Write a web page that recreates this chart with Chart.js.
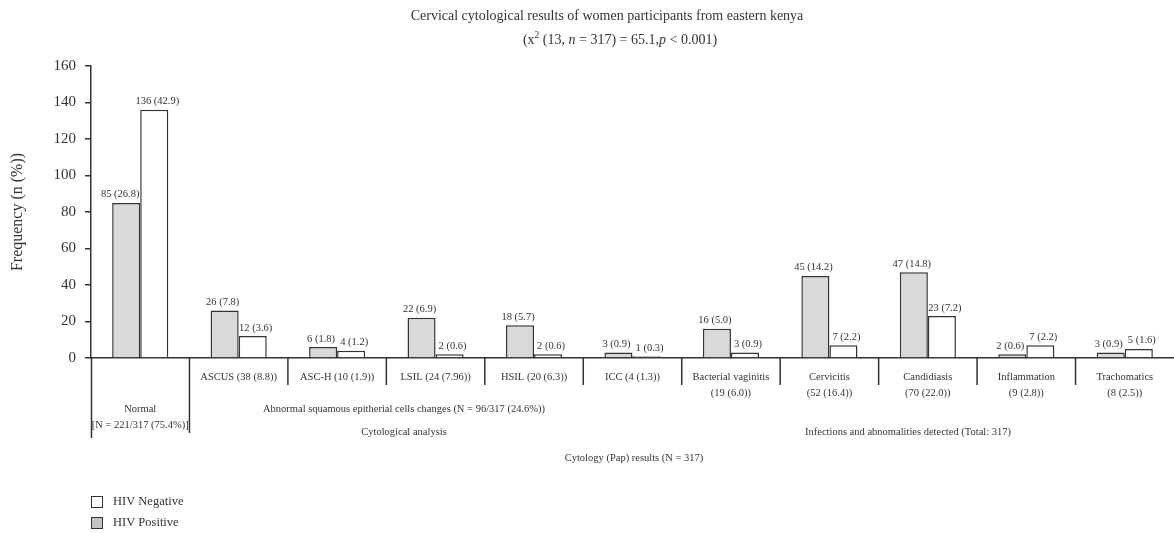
<!DOCTYPE html>
<html>
<head>
<meta charset="utf-8">
<script src="https://cdn.jsdelivr.net/npm/chart.js@4"></script>
<style>
html, body { margin: 0; background: #fff; }
#wrap { width: 1174px; height: 533px; }
</style>
</head>
<body>
<div id="wrap"><canvas id="chart"></canvas></div>
<script>
// category labels (multi-line)
var categories = [
    ['', '', 'Normal', '[N = 221/317 (75.4%)]'],
    'ASCUS (38 (8.8))',
    'ASC-H (10 (1.9))',
    'LSIL (24 (7.96))',
    'HSIL (20 (6.3))',
    'ICC (4 (1.3))',
    ['Bacterial vaginitis', '(19 (6.0))'],
    ['Cervicitis', '(52 (16.4))'],
    ['Candidiasis', '(70 (22.0))'],
    ['Inflammation', '(9 (2.8))'],
    ['Trachomatics', '(8 (2.5))']
];
var hivPositive = [85, 26, 6, 22, 18, 3, 16, 45, 47, 2, 3];
var hivPositivePct = [26.8, 7.8, 1.8, 6.9, 5.7, 0.9, 5.0, 14.2, 14.8, 0.6, 0.9];
var hivNegative = [136, 12, 4, 2, 2, 1, 3, 7, 23, 7, 5];
var hivNegativePct = [42.9, 3.6, 1.2, 0.6, 0.6, 0.3, 0.9, 2.2, 7.2, 2.2, 1.6];
var yTicks = [0, 20, 40, 60, 80, 100, 120, 140, 160];

var serif = '"Liberation Serif", "DejaVu Serif", serif';
var ink = '#333';

// bar value labels + extra annotations
var annotations = {
    id: 'annotations',
    afterDatasetsDraw: function(chart) {
        var ctx = chart.ctx;
        var pcts = [hivPositivePct, hivNegativePct];
        var nudge = [-2, 3];
        ctx.save();
        ctx.font = '10.5px ' + serif;
        ctx.fillStyle = ink;
        ctx.textAlign = 'center';
        ctx.textBaseline = 'bottom';
        chart.data.datasets.forEach(function(ds, di) {
            var meta = chart.getDatasetMeta(di);
            meta.data.forEach(function(el, i) {
                var dx = nudge[di];
                if (di === 0 && i === 0) dx = -6;
                ctx.fillText(ds.data[i] + ' (' + pcts[di][i].toFixed(1) + ')', el.x + dx, el.y - 3);
            });
        });
        ctx.restore();
    },
    afterDraw: function(chart) {
        var ctx = chart.ctx;
        var x = chart.scales.x;
        var area = chart.chartArea;
        var bottom = area.bottom;
        ctx.save();
        ctx.strokeStyle = ink;
        ctx.lineWidth = 1.5;

        // separators under the axis
        ctx.beginPath();
        ctx.moveTo(area.left + 0.5, bottom);
        ctx.lineTo(area.left + 0.5, bottom + 80);
        for (var i = 1; i < categories.length; i++) {
            var bx = (x.getPixelForValue(i - 1) + x.getPixelForValue(i)) / 2;
            ctx.moveTo(bx, bottom);
            ctx.lineTo(bx, bottom + (i === 1 ? 75 : 27));
        }
        ctx.stroke();

        // group labels
        ctx.fillStyle = ink;
        ctx.textAlign = 'center';
        ctx.textBaseline = 'middle';
        ctx.font = '10.5px ' + serif;
        ctx.fillText('Abnormal squamous epitherial cells changes (N = 96/317 (24.6%))', 404, 409);
        ctx.fillText('Cytological analysis', 404, 432);
        ctx.fillText('Infections and abnomalities detected (Total: 317)', 908, 432);
        ctx.fillText('Cytology (Pap) results (N = 317)', 634, 458);

        // title
        ctx.font = '14px ' + serif;
        ctx.fillText('Cervical cytological results of women participants from eastern kenya', 607, 16);
        var parts = [
            ['(x', '14px ' + serif, 0],
            ['2', '9.5px ' + serif, -5],
            [' (13, ', '14px ' + serif, 0],
            ['n', 'italic 14px ' + serif, 0],
            [' = 317) = 65.1,', '14px ' + serif, 0],
            ['p', 'italic 14px ' + serif, 0],
            [' < 0.001)', '14px ' + serif, 0]
        ];
        var total = 0;
        parts.forEach(function(p) { ctx.font = p[1]; total += ctx.measureText(p[0]).width; });
        var px = 620 - total / 2;
        ctx.textAlign = 'left';
        parts.forEach(function(p) {
            ctx.font = p[1];
            ctx.fillText(p[0], px, 40 + p[2]);
            px += ctx.measureText(p[0]).width;
        });

        // legend (negative first, like the original)
        var items = [chart.data.datasets[1], chart.data.datasets[0]];
        ctx.font = '12.5px ' + serif;
        ctx.lineWidth = 1;
        items.forEach(function(ds, k) {
            var ly = 496 + k * 21;
            ctx.fillStyle = ds.legendColor;
            ctx.fillRect(91.5, ly + 0.5, 11, 11);
            ctx.strokeStyle = ink;
            ctx.strokeRect(91.5, ly + 0.5, 11, 11);
            ctx.fillStyle = ink;
            ctx.fillText(ds.label, 113, ly + 6);
        });
        ctx.restore();
    }
};

var ctx = document.getElementById('chart').getContext('2d');
new Chart(ctx, {
    type: 'bar',
    data: {
        labels: categories,
        datasets: [{
            label: 'HIV Positive',
            data: hivPositive,
            backgroundColor: '#d9d9d9',
            legendColor: '#c4c4c4',
            borderColor: ink,
            borderWidth: 1.5
        }, {
            label: 'HIV Negative',
            data: hivNegative,
            backgroundColor: '#ffffff',
            legendColor: '#ffffff',
            borderColor: ink,
            borderWidth: 1.5
        }]
    },
    options: {
        responsive: true,
        maintainAspectRatio: false,
        animation: false,
        categoryPercentage: 0.57,
        barPercentage: 1,
        layout: { padding: { top: 66, right: -4, left: 0, bottom: 0 } },
        plugins: {
            legend: { display: false },
            tooltip: { enabled: false },
            title: { display: false }
        },
        scales: {
            x: {
                grid: { display: false },
                border: { display: true, color: ink, width: 1.5 },
                ticks: {
                    autoSkip: false,
                    maxRotation: 0,
                    padding: 3,
                    color: ink,
                    font: { family: serif, size: 10.5, lineHeight: 1.52 }
                },
                afterFit: function(s) { s.height = 175; }
            },
            y: {
                min: 0,
                max: 160,
                afterBuildTicks: function(s) {
                    s.ticks = yTicks.map(function(v) { return { value: v }; });
                },
                grid: { drawOnChartArea: false, tickLength: 6, color: ink, lineWidth: 1.5 },
                border: { display: true, color: ink, width: 1.5 },
                ticks: {
                    color: ink,
                    padding: 9,
                    font: { family: serif, size: 15 }
                },
                title: {
                    display: true,
                    text: 'Frequency (n (%))',
                    color: ink,
                    padding: { top: 8, bottom: 4 },
                    font: { family: serif, size: 16 }
                },
                afterFit: function(s) { s.width = 91; }
            }
        }
    },
    plugins: [annotations]
});
</script>
</body>
</html>
